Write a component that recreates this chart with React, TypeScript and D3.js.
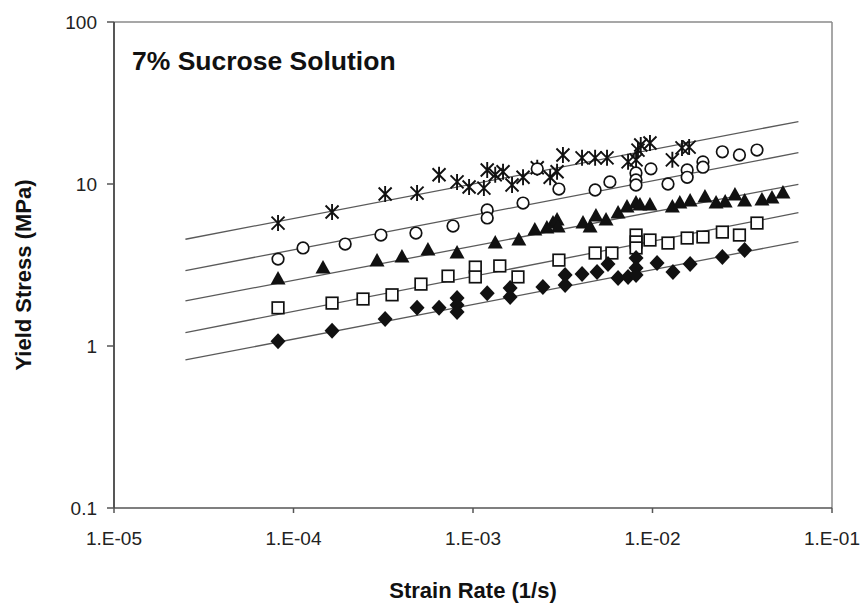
import React from "react";
import * as d3 from "d3";

// ---- data ----
const X_TICKS = [1e-5, 1e-4, 1e-3, 1e-2, 1e-1];
const X_TICK_LABELS = ["1.E-05", "1.E-04", "1.E-03", "1.E-02", "1.E-01"];
const Y_TICKS = [0.1, 1, 10, 100];
const Y_TICK_LABELS = ["0.1", "1", "10", "100"];

// fitted power-law lines: strain-rate range and stress at both ends
const FIT_X = [2.5e-5, 0.065];
const FIT_START = [4.56, 2.92, 1.9, 1.21, 0.82];
const FIT_END = [24.3, 15.6, 9.96, 6.65, 4.41];

const starPoints: [number, number][] = [
  [8.2e-5, 5.74], [1.64e-4, 6.72], [3.24e-4, 8.67], [4.88e-4, 8.79], [6.47e-4, 11.4],
  [8.15e-4, 10.3], [9.51e-4, 9.58], [1.15e-3, 9.44], [1.2e-3, 12.2], [1.33e-3, 11.4],
  [1.47e-3, 11.9], [1.65e-3, 9.86], [1.9e-3, 11.0], [2.28e-3, 12.6], [2.69e-3, 11.0],
  [2.94e-3, 11.9], [3.17e-3, 15.1], [4.05e-3, 14.5], [4.79e-3, 14.5], [5.58e-3, 14.5],
  [7.31e-3, 13.7], [8.1e-3, 14.1], [8.3e-3, 16.2], [8.6e-3, 17.4], [9.68e-3, 17.9],
  [1.29e-2, 14.1], [1.46e-2, 16.7], [1.6e-2, 16.9],
];

const circlePoints: [number, number][] = [
  [8.2e-5, 3.44], [1.13e-4, 4.03], [1.94e-4, 4.26], [3.07e-4, 4.84], [4.81e-4, 4.98],
  [7.74e-4, 5.5], [1.2e-3, 6.91], [1.2e-3, 6.17], [1.9e-3, 7.63], [2.28e-3, 12.4],
  [3.01e-3, 9.31], [4.79e-3, 9.18], [5.79e-3, 10.3], [8.09e-3, 11.7], [8.09e-3, 10.6],
  [8.09e-3, 9.86], [9.8e-3, 12.4], [1.22e-2, 10.0], [1.56e-2, 12.2], [1.56e-2, 11.0],
  [1.91e-2, 13.7], [1.91e-2, 12.7], [2.45e-2, 15.8], [3.05e-2, 15.1], [3.82e-2, 16.2],
];

const trianglePoints: [number, number][] = [
  [8.2e-5, 2.59], [1.46e-4, 3.03], [2.92e-4, 3.35], [4.02e-4, 3.54], [5.61e-4, 3.91],
  [8.15e-4, 3.75], [1.33e-3, 4.32], [1.8e-3, 4.51], [2.21e-3, 5.2], [2.58e-3, 5.35],
  [2.79e-3, 5.74], [2.94e-3, 6.0], [2.98e-3, 5.43], [4.1e-3, 5.74], [4.49e-3, 5.43],
  [4.84e-3, 6.34], [5.51e-3, 6.0], [6.43e-3, 6.63], [7.21e-3, 7.21], [8.09e-3, 7.63],
  [8.51e-3, 7.42], [9.68e-3, 7.42], [1.29e-2, 7.21], [1.42e-2, 7.63], [1.62e-2, 7.85],
  [1.96e-2, 8.32], [2.26e-2, 7.63], [2.54e-2, 7.74], [2.88e-2, 8.55], [3.26e-2, 7.85],
  [4.07e-2, 7.97], [4.63e-2, 8.2], [5.33e-2, 8.79],
];

const squarePoints: [number, number][] = [
  [8.2e-5, 1.72], [1.64e-4, 1.84], [2.44e-4, 1.95], [3.54e-4, 2.07], [5.13e-4, 2.41],
  [7.26e-4, 2.7], [1.03e-3, 3.07], [1.03e-3, 2.67], [1.41e-3, 3.12], [1.78e-3, 2.67],
  [3.01e-3, 3.39], [4.79e-3, 3.75], [5.94e-3, 3.75], [8.1e-3, 4.84], [8.1e-3, 4.39],
  [8.1e-3, 4.03], [9.68e-3, 4.51], [1.22e-2, 4.32], [1.56e-2, 4.64], [1.91e-2, 4.71],
  [2.45e-2, 5.05], [3.05e-2, 4.84], [3.82e-2, 5.74],
];

const diamondPoints: [number, number][] = [
  [8.2e-5, 1.07], [1.64e-4, 1.24], [3.24e-4, 1.47], [4.88e-4, 1.72], [6.47e-4, 1.72],
  [8.15e-4, 1.98], [8.15e-4, 1.79], [8.15e-4, 1.62], [1.2e-3, 2.12], [1.61e-3, 2.28],
  [1.61e-3, 2.01], [2.45e-3, 2.31], [3.26e-3, 2.74], [3.26e-3, 2.38], [4.05e-3, 2.78],
  [4.91e-3, 2.86], [5.65e-3, 3.21], [6.43e-3, 2.63], [7.31e-3, 2.67], [8.1e-3, 3.49],
  [8.1e-3, 3.03], [8.1e-3, 2.74], [1.06e-2, 3.25], [1.3e-2, 2.86], [1.62e-2, 3.21],
  [2.45e-2, 3.54], [3.26e-2, 3.91],
];

// ---- layout ----
const W = 864;
const H = 608;
const L = 114, R = 832, T = 22, B = 508;

const FONT = "'Liberation Sans', Arial, sans-serif";

export default function App() {
  const x = d3.scaleLog().domain([1e-5, 1e-1]).range([L, R]);
  const y = d3.scaleLog().domain([0.1, 100]).range([B, T]);
  const line = d3
    .line<[number, number]>()
    .x((d) => x(d[0]))
    .y((d) => y(d[1]));

  const star = "M-6.5,-6.5L6.5,6.5M-6.5,6.5L6.5,-6.5M0,-8L0,8";
  const tri = "M0,-8L7.5,5.5L-7.5,5.5Z";
  const diamond = "M0,-8L7.5,0L0,8L-7.5,0Z";

  return (
    <svg
      width={W}
      height={H}
      style={{ position: "absolute", left: 0, top: 0, background: "#fff" }}
      fontFamily={FONT}
    >
      <rect width={W} height={H} fill="#fff" />
      {/* frame */}
      <line x1={L} y1={T} x2={R} y2={T} stroke="#8a8a8a" strokeWidth={1.5} />
      <line x1={R} y1={T} x2={R} y2={B} stroke="#8a8a8a" strokeWidth={1.5} />
      <line x1={L} y1={B} x2={R} y2={B} stroke="#555" strokeWidth={1.6} />
      <line x1={L} y1={T} x2={L} y2={B} stroke="#444" strokeWidth={1.8} />

      {/* y ticks */}
      {Y_TICKS.map((t, i) => (
        <g key={"y" + i}>
          <line x1={L - 7} x2={L} y1={y(t)} y2={y(t)} stroke="#555" strokeWidth={1.5} />
          <text x={97} y={y(t)} dy="0.36em" textAnchor="end" fontSize={19} fill="#222">
            {Y_TICK_LABELS[i]}
          </text>
        </g>
      ))}
      {/* x ticks */}
      {X_TICKS.map((t, i) => (
        <g key={"x" + i}>
          <line x1={x(t)} x2={x(t)} y1={B} y2={B + 5} stroke="#555" strokeWidth={1.5} />
          <text x={x(t)} y={545} textAnchor="middle" fontSize={19} fill="#222">
            {X_TICK_LABELS[i]}
          </text>
        </g>
      ))}

      {/* axis titles */}
      <text
        transform={`translate(31,${(T + B) / 2 + 10}) rotate(-90)`}
        textAnchor="middle"
        fontSize={22}
        fontWeight="bold"
        fill="#111"
      >
        Yield Stress (MPa)
      </text>
      <text x={(L + R) / 2} y={598} textAnchor="middle" fontSize={22} fontWeight="bold" fill="#111">
        Strain Rate (1/s)
      </text>
      <text x={132} y={70} fontSize={26.5} fontWeight="bold" fill="#111">
        7%  Sucrose Solution
      </text>

      {/* fit lines */}
      {FIT_START.map((s, i) => (
        <path
          key={"f" + i}
          d={line([
            [FIT_X[0], s],
            [FIT_X[1], FIT_END[i]],
          ]) || ""}
          fill="none"
          stroke="#5a5a5a"
          strokeWidth={1.3}
        />
      ))}

      {/* markers */}
      {starPoints.map((d, i) => (
        <path key={"s" + i} transform={`translate(${x(d[0])},${y(d[1])})`} d={star} stroke="#111" strokeWidth={1.9} fill="none" />
      ))}
      {circlePoints.map((d, i) => (
        <circle key={"c" + i} cx={x(d[0])} cy={y(d[1])} r={5.8} fill="#fff" stroke="#111" strokeWidth={1.7} />
      ))}
      {trianglePoints.map((d, i) => (
        <path key={"t" + i} transform={`translate(${x(d[0])},${y(d[1])})`} d={tri} fill="#111" />
      ))}
      {squarePoints.map((d, i) => (
        <rect key={"q" + i} x={x(d[0]) - 5.8} y={y(d[1]) - 5.8} width={11.6} height={11.6} fill="#fff" stroke="#111" strokeWidth={1.7} />
      ))}
      {diamondPoints.map((d, i) => (
        <path key={"d" + i} transform={`translate(${x(d[0])},${y(d[1])})`} d={diamond} fill="#111" />
      ))}
    </svg>
  );
}
